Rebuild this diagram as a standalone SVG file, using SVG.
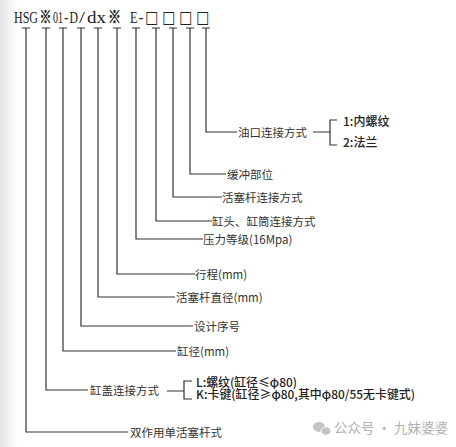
<svg xmlns="http://www.w3.org/2000/svg" width="456" height="447" viewBox="0 0 456 447">
<defs>
<linearGradient id="shade" x1="0" y1="0" x2="1" y2="0">
<stop offset="0" stop-color="#e4e4e4"/>
<stop offset="1" stop-color="#ffffff"/>
</linearGradient>
</defs>
<style>
.ln{fill:none;stroke:#333;stroke-width:1.2}
.code{font-family:"Liberation Serif","Noto Sans CJK SC",serif;font-size:17px;fill:#222}
.sym{font-family:"Noto Sans CJK SC",sans-serif;font-size:17px;font-weight:bold;stroke:#222;stroke-width:0.5}
.box{font-family:"DejaVu Sans",sans-serif;font-size:17px}
.lbl{font-family:"Noto Sans CJK SC","Noto Sans",sans-serif;font-size:11.5px;fill:#333}
.opt{font-family:"Noto Sans CJK SC","Noto Sans",sans-serif;font-size:12px;fill:#222;font-weight:500}
.wm{font-family:"Noto Sans CJK SC","Noto Sans",sans-serif;font-size:13.5px;fill:#b0b0b0}
</style>
<rect width="456" height="447" fill="#fff"/>
<rect width="18" height="447" fill="url(#shade)"/>
<g id="code">
<text class="code" y="23"><tspan x="14" textLength="24" lengthAdjust="spacingAndGlyphs">HSG</tspan><tspan class="sym" x="39.5" textLength="12" lengthAdjust="spacingAndGlyphs">※</tspan><tspan x="53" textLength="10" lengthAdjust="spacingAndGlyphs">01</tspan><tspan x="64" textLength="4.5" lengthAdjust="spacingAndGlyphs">-</tspan><tspan x="69.5" textLength="8.5" lengthAdjust="spacingAndGlyphs">D</tspan><tspan x="79" textLength="6" lengthAdjust="spacingAndGlyphs">/</tspan><tspan x="87" textLength="19" lengthAdjust="spacingAndGlyphs">dx</tspan><tspan class="sym" x="108" textLength="13" lengthAdjust="spacingAndGlyphs">※</tspan><tspan x="130" textLength="7.5" lengthAdjust="spacingAndGlyphs">E</tspan><tspan x="138.5" textLength="5" lengthAdjust="spacingAndGlyphs">-</tspan><tspan class="box" x="145" textLength="13" lengthAdjust="spacingAndGlyphs">□</tspan><tspan class="box" x="162" textLength="13" lengthAdjust="spacingAndGlyphs">□</tspan><tspan class="box" x="179" textLength="13" lengthAdjust="spacingAndGlyphs">□</tspan><tspan class="box" x="196" textLength="13" lengthAdjust="spacingAndGlyphs">□</tspan></text>
</g>
<g id="connectors">
<path class="ln" d="M22,28H30M26,28V432H128"/>
<path class="ln" d="M42,28H50M46,28V390H88"/>
<path class="ln" d="M59,28H67M63,28V351H176"/>
<path class="ln" d="M77,28H85M81,28V326H193"/>
<path class="ln" d="M94,28H102M98,28V297H175"/>
<path class="ln" d="M113,28H121M117,28V274H195"/>
<path class="ln" d="M132,28H140M136,28V239H203"/>
<path class="ln" d="M152,28H160M156,28V221H212"/>
<path class="ln" d="M169,28H177M173,28V197H222"/>
<path class="ln" d="M186,28H194M190,28V174H226"/>
<path class="ln" d="M202,28H210M206,28V132H237"/>
<path class="ln" d="M313,132H330M337,120H330V145H337"/>
<path class="ln" d="M167,391H184M192,381H184V399H192"/>
</g>
<g id="n-oil"><text class="lbl" x="238" y="136.5">油口连接方式</text></g>
<g id="n-oil-1"><text class="opt" x="343" y="126">1:内螺纹</text></g>
<g id="n-oil-2"><text class="opt" x="343" y="146.5">2:法兰</text></g>
<g id="n-buffer"><text class="lbl" x="227" y="178.5">缓冲部位</text></g>
<g id="n-rodconn"><text class="lbl" x="222" y="201.5">活塞杆连接方式</text></g>
<g id="n-headconn"><text class="lbl" x="212" y="225.5">缸头、缸筒连接方式</text></g>
<g id="n-pressure"><text class="lbl" x="203" y="243.5">压力等级(16Mpa)</text></g>
<g id="n-stroke"><text class="lbl" x="195" y="278.5">行程(mm)</text></g>
<g id="n-roddia"><text class="lbl" x="176" y="301.5">活塞杆直径(mm)</text></g>
<g id="n-serial"><text class="lbl" x="194" y="330.5">设计序号</text></g>
<g id="n-bore"><text class="lbl" x="177" y="355.5">缸径(mm)</text></g>
<g id="n-cap"><text class="lbl" x="90" y="394.5">缸盖连接方式</text></g>
<g id="n-cap-l"><text class="opt" x="196" y="386.5" textLength="101" lengthAdjust="spacingAndGlyphs">L:螺纹(缸径≤φ80)</text></g>
<g id="n-cap-k"><text class="opt" x="196" y="398.5" textLength="219" lengthAdjust="spacingAndGlyphs">K:卡键(缸径≥φ80,其中φ80/55无卡键式)</text></g>
<g id="n-type"><text class="lbl" x="130" y="436.5">双作用单活塞杆式</text></g>
<g id="watermark">
<ellipse cx="319" cy="427" rx="6" ry="5" fill="#c4c4c4"/>
<ellipse cx="326" cy="431" rx="5" ry="4.2" fill="#c4c4c4" stroke="#fff" stroke-width="1"/>
<text class="wm" x="334" y="433">公众号 · 九妹婆婆</text>
</g>
</svg>
